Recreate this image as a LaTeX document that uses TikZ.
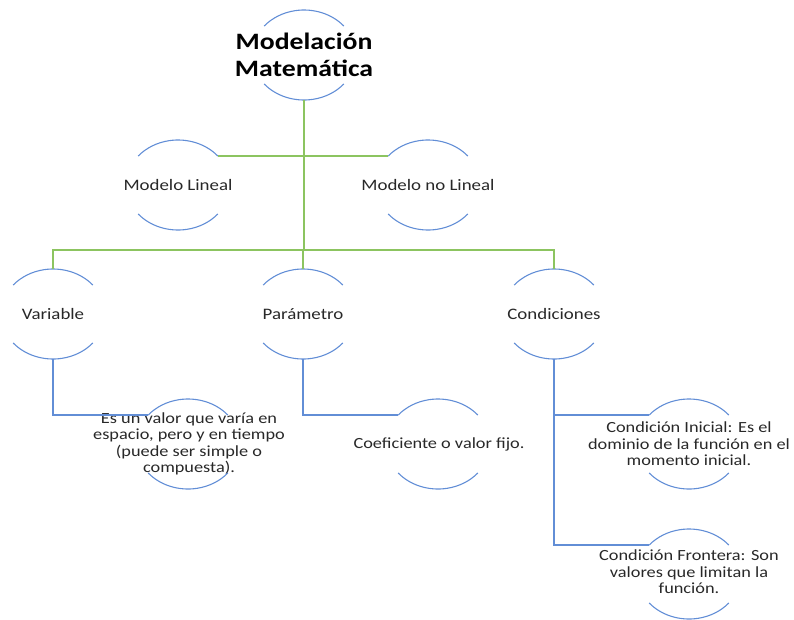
\documentclass[tikz,border=0pt]{standalone}
\usepackage{fontspec}
\setmainfont{Carlito}[FakeStretch=1.18]
\definecolor{gl}{RGB}{140,196,96}
\definecolor{bl}{RGB}{98,142,214}
\definecolor{tx}{RGB}{40,40,40}
\tikzset{
  gline/.style={draw=gl,line width=1.6pt},
  bline/.style={draw=bl,line width=1.3pt},
  arcline/.style={draw=bl,line width=1.1pt},
  titletext/.style={align=center,text=black,font=\fontsize{23.5}{27}\selectfont\bfseries,inner sep=0pt},
  labeltext/.style={align=center,text=tx,font=\fontsize{16}{19}\selectfont,inner sep=0pt},
  childtext/.style={align=center,text=tx,font=\fontsize{15.5}{16.5}\selectfont,inner sep=0pt},
}
\begin{document}
\begin{tikzpicture}[x=1pt,y=-1pt]
\useasboundingbox (0,0) rectangle (794,619);
% nodes
\node[titletext] (title) at (304,55) {Modelación\\Matemática};
\node[labeltext] (ml) at (178,185) {Modelo Lineal};
\node[labeltext] (mnl) at (428,185) {Modelo no Lineal};
\node[labeltext] (var) at (53,314) {Variable};
\node[labeltext] (par) at (303,314) {Parámetro};
\node[labeltext] (cond) at (554,314) {Condiciones};
\node[childtext] (c1) at (189,444) {Es un valor que varía en\\espacio, pero y en tiempo\\(puede ser simple o\\compuesta).};
\node[childtext] (c2) at (439,444) {Coeficiente o valor fijo.};
\node[childtext] (c3) at (689,444) {Condición Inicial: Es el\\dominio de la función en el\\momento inicial.};
\node[childtext] (c4) at (689,572) {Condición Frontera: Son\\valores que limitan la\\función.};
% circle centres (for arcs)
\coordinate (title-c) at (304,55);
\coordinate (ml-c) at (178,185);
\coordinate (mnl-c) at (428,185);
\coordinate (var-c) at (53,314);
\coordinate (par-c) at (303,314);
\coordinate (cond-c) at (554,314);
\coordinate (c1-c) at (188,444);
\coordinate (c2-c) at (438,444);
\coordinate (c3-c) at (689,444);
\coordinate (c4-c) at (689,574);
\foreach \n in {title,ml,mnl,var,par,cond,c1,c2,c3,c4}{
  \draw[arcline] ([shift={(40:52pt and 45pt)}]\n-c) arc[start angle=40,end angle=140,x radius=52pt,y radius=45pt];
  \draw[arcline] ([shift={(220:52pt and 45pt)}]\n-c) arc[start angle=220,end angle=320,x radius=52pt,y radius=45pt];
  \coordinate (\n-t) at ([yshift=45pt]\n-c);
  \coordinate (\n-b) at ([yshift=-45pt]\n-c);
  \coordinate (\n-tr) at ([shift={(40:52pt and 45pt)}]\n-c);
  \coordinate (\n-tl) at ([shift={(140:52pt and 45pt)}]\n-c);
}
\coordinate (bar) at (304,250);
% green connectors
\draw[gline] (title-b) -- (bar);
\draw[gline] (ml-tr) -- (mnl-tl);
\draw[gline] (var-t) |- (bar) -| (cond-t);
\draw[gline] (par-t) -- (par-t |- bar);
% blue connectors
\draw[bline] (var-b) |- (c1-tl);
\draw[bline] (par-b) |- (c2-tl);
\draw[bline] (cond-b) |- (c3-tl);
\draw[bline] (cond-b) |- (c4-tl);
\end{tikzpicture}
\end{document}
